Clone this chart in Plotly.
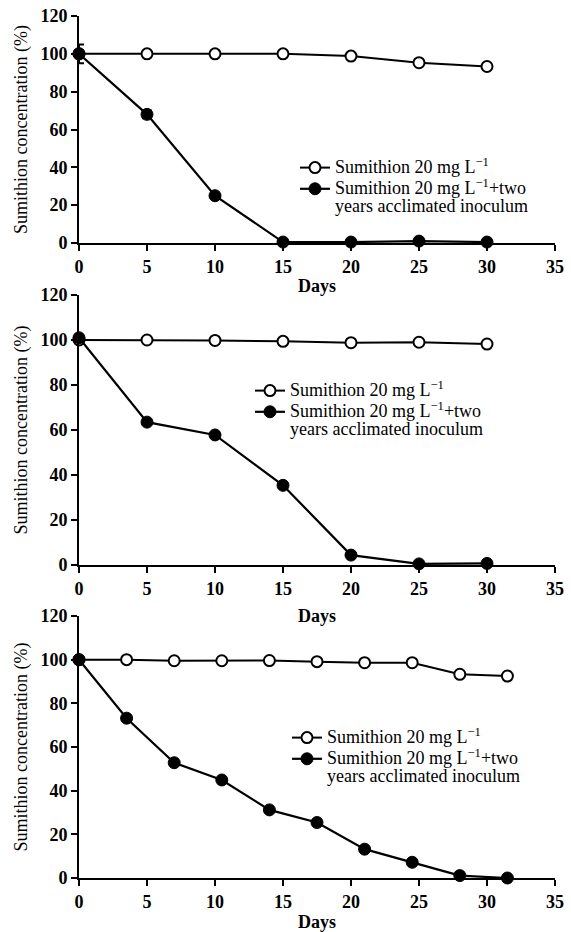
import plotly.graph_objects as go

# ---------------- data ----------------
days_a = [0, 5, 10, 15, 20, 25, 30]
control_a = [100, 100, 100, 100, 98.8, 95.3, 93.3]
inoc_a = [100, 68, 25, 0.5, 0.5, 1, 0.5]
inoc_a_err = [5, 2, 1, 0, 0, 0, 0]

days_b = [0, 5, 10, 15, 20, 25, 30]
control_b = [100, 100, 99.8, 99.4, 98.8, 99.0, 98.2]
inoc_b = [101, 63.5, 57.8, 35.4, 4.4, 0.5, 0.7]

days_c = [0, 3.5, 7, 10.5, 14, 17.5, 21, 24.5, 28, 31.5]
control_c = [100, 100, 99.5, 99.5, 99.6, 99.1, 98.6, 98.6, 93.3, 92.5]
inoc_c = [100, 73.2, 52.8, 44.9, 31.2, 25.4, 13.2, 7.2, 1.1, 0]

LEG_SPAN = '<span style="font-size:18px">{}</span>'
name_control = LEG_SPAN.format("Sumithion 20 mg L<sup>−1</sup>")
name_inoc = (LEG_SPAN.format("Sumithion 20 mg L<sup>−1</sup>+two") + "<br>"
             + LEG_SPAN.format("years acclimated inoculum"))

x_ticks = [0, 5, 10, 15, 20, 25, 30, 35]
y_ticks = [0, 20, 40, 60, 80, 100, 120]
x_title = "Days"
y_title = "Sumithion concentration (%)"

# ---------------- layout helpers ----------------
W, H = 571, 932
FONT = "Liberation Serif, Times New Roman, serif"


def px_x(p):
    return p / W


def px_y(p):
    return 1 - p / H


panels = [
    dict(days=days_a, ctrl=control_a, inoc=inoc_a, err=inoc_a_err,
         top=16, bottom=243, legend_xy=(295, 152), standoff=4),
    dict(days=days_b, ctrl=control_b, inoc=inoc_b, err=None,
         top=295, bottom=565, legend_xy=(250, 375), standoff=12),
    dict(days=days_c, ctrl=control_c, inoc=inoc_c, err=None,
         top=616, bottom=878, legend_xy=(287, 722), standoff=8),
]

fig = go.Figure()
layout = dict(
    width=W, height=H,
    margin=dict(l=0, r=0, t=0, b=0),
    paper_bgcolor="white", plot_bgcolor="white",
    font=dict(family=FONT, size=18, color="black"),
    showlegend=True,
)

for i, p in enumerate(panels):
    n = "" if i == 0 else str(i + 1)
    xa, ya = "x" + n, "y" + n
    leg = "legend" + n
    err = None
    if p["err"] is not None:
        err = dict(type="data", array=p["err"], visible=True,
                   color="black", thickness=2, width=5)
    fig.add_trace(go.Scatter(
        x=p["days"], y=p["ctrl"], mode="lines+markers", name=name_control,
        xaxis=xa, yaxis=ya, legend=leg, cliponaxis=False,
        line=dict(color="black", width=2),
        marker=dict(symbol="circle", size=11, color="white",
                    line=dict(color="black", width=2)),
    ))
    fig.add_trace(go.Scatter(
        x=p["days"], y=p["inoc"], mode="lines+markers", name=name_inoc,
        xaxis=xa, yaxis=ya, legend=leg, cliponaxis=False,
        error_y=err,
        line=dict(color="black", width=2.2),
        marker=dict(symbol="circle", size=12, color="black",
                    line=dict(color="black", width=1)),
    ))
    axis_common = dict(
        showline=True, linecolor="black", linewidth=2,
        ticks="outside", ticklen=6, tickwidth=2, tickcolor="black",
        showgrid=False, zeroline=False, automargin=False,
        tickfont=dict(family=FONT, size=18, color="black", weight="bold"),
    )
    layout["xaxis" + n] = dict(
        axis_common, domain=[px_x(79), px_x(555)], range=[0, 35],
        tickvals=x_ticks, anchor=ya,
        title=dict(text=x_title,
                   font=dict(family=FONT, size=18, weight="bold"),
                   standoff=p["standoff"]),
    )
    layout["yaxis" + n] = dict(
        axis_common, domain=[px_y(p["bottom"]), px_y(p["top"])],
        range=[0, 120], tickvals=y_ticks, anchor=xa,
        title=dict(text=y_title, font=dict(family=FONT, size=18),
                   standoff=8),
    )
    lx, ly = p["legend_xy"]
    layout[leg] = dict(
        x=px_x(lx), y=px_y(ly), xanchor="left", yanchor="top",
        xref="paper", yref="paper",
        bgcolor="rgba(0,0,0,0)", borderwidth=0,
        font=dict(family=FONT, size=14, color="black"),
        valign="top", tracegroupgap=0, itemwidth=30,
    )

fig.update_layout(**layout)
fig.write_html("out.html")
